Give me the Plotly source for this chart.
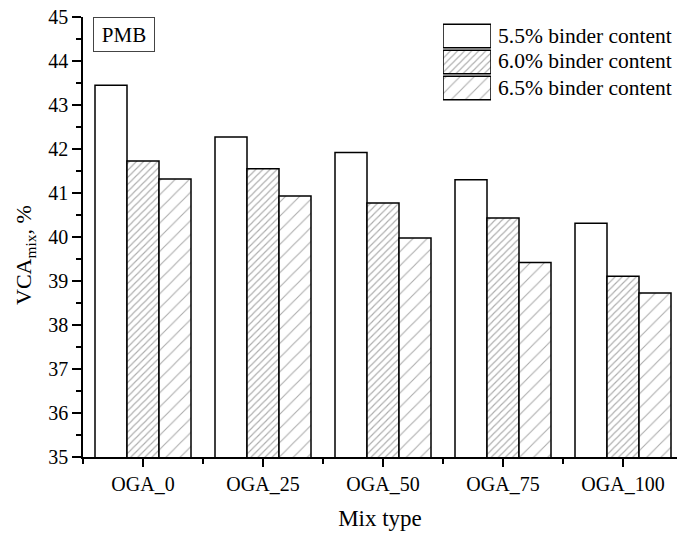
import plotly.graph_objects as go

categories = ["OGA_0", "OGA_25", "OGA_50", "OGA_75", "OGA_100"]
series_names = ["5.5% binder content", "6.0% binder content", "6.5% binder content"]
vca_55 = [43.45, 42.27, 41.92, 41.30, 40.31]
vca_60 = [41.73, 41.55, 40.77, 40.43, 39.11]
vca_65 = [41.32, 40.93, 39.98, 39.42, 38.73]
series_values = [vca_55, vca_60, vca_65]
y_ticks = [35, 36, 37, 38, 39, 40, 41, 42, 43, 44, 45]

FONT = "Liberation Serif"
shapes_p = ["", "/", "/"]
sizes_p = [8, 5, 10]
solid_p = [0.0, 0.22, 0.11]
HATCH = "#5a5a5a"

fig = go.Figure()
xpos = list(range(len(categories)))
for i, (name, vals) in enumerate(zip(series_names, series_values)):
    fig.add_trace(go.Bar(
        x=xpos, y=vals, name=name, showlegend=False,
        marker=dict(color="white", line=dict(color="black", width=1.5),
                    pattern=dict(shape=shapes_p[i], size=sizes_p[i], solidity=solid_p[i],
                                 fgcolor=HATCH, bgcolor="white", fillmode="overlay")),
    ))

# custom legend swatches on a mini axis
fig.add_trace(go.Bar(
    x=[1, 1, 1], y=list(range(len(series_names))), orientation="h",
    xaxis="x2", yaxis="y2", showlegend=False, width=0.9, base=0,
    marker=dict(color="white", line=dict(color="black", width=1.5),
                pattern=dict(shape=shapes_p, size=sizes_p, solidity=solid_p,
                             fgcolor=HATCH, bgcolor="white", fillmode="overlay")),
    hoverinfo="skip",
))

W, H = 677, 533
L, R, T, B = 83, 0, 17, 76
pw, ph = W - L - R, H - T - B

def px(x):
    return (x - L) / pw

def py(y):
    return (H - B - y) / ph

fig.update_layout(
    width=W, height=H,
    margin=dict(l=L, r=R, t=T, b=B, autoexpand=False),
    paper_bgcolor="white", plot_bgcolor="white",
    barmode="group", bargap=0.2, bargroupgap=0,
    font=dict(family=FONT, color="black", size=20),
    xaxis=dict(
        range=[-0.5, 4.45], tickvals=xpos, ticktext=categories,
        showline=True, linecolor="black", linewidth=1.5,
        ticks="outside", ticklen=8, tickwidth=1.5, tickcolor="black",
        minor=dict(tick0=-0.5, dtick=1, ticks="outside", ticklen=5, tickwidth=1.5, tickcolor="black"),
        showgrid=False, zeroline=False, automargin=False, ticklabeloverflow="allow",
        tickfont=dict(size=20, family=FONT),
        title=dict(text="Mix type", font=dict(size=23, family=FONT), standoff=16),
    ),
    yaxis=dict(
        range=[35, 45], tickvals=y_ticks,
        showline=True, linecolor="black", linewidth=1.5,
        ticks="outside", ticklen=9, tickwidth=1.5, tickcolor="black",
        minor=dict(dtick=0.5, ticks="outside", ticklen=5, tickwidth=1.5, tickcolor="black"),
        showgrid=False, zeroline=False, automargin=False, ticklabeloverflow="allow",
        tickfont=dict(size=20, family=FONT),
    ),
    xaxis2=dict(domain=[px(443), px(491)], range=[0, 1], visible=False, anchor="y2"),
    yaxis2=dict(domain=[py(101), py(23)], range=[2.5, -0.5], visible=False, anchor="x2"),
)

fig.add_annotation(x=px(25), y=py(255), xref="paper", yref="paper",
                   text="VCA<sub>mix</sub>, %", textangle=-90, showarrow=False,
                   xanchor="center", yanchor="middle", font=dict(size=22, family=FONT))

legend_y = [36, 61, 88]
for name, yy in zip(series_names, legend_y):
    fig.add_annotation(x=px(496), y=py(yy), xref="paper", yref="paper", text=name,
                       showarrow=False, xanchor="left", yanchor="middle",
                       font=dict(size=21.5, family=FONT))

fig.add_annotation(x=px(124), y=py(34), xref="paper", yref="paper", text="PMB",
                   showarrow=False, xanchor="center", yanchor="middle",
                   width=52, height=25,
                   font=dict(size=21, family=FONT), bordercolor="#444", borderwidth=1,
                   borderpad=4, bgcolor="white")

fig.write_html(
    "out.html",
    config={"displayModeBar": False},
    post_script="document.body.style.margin='0';document.body.style.overflow='hidden';",
)
